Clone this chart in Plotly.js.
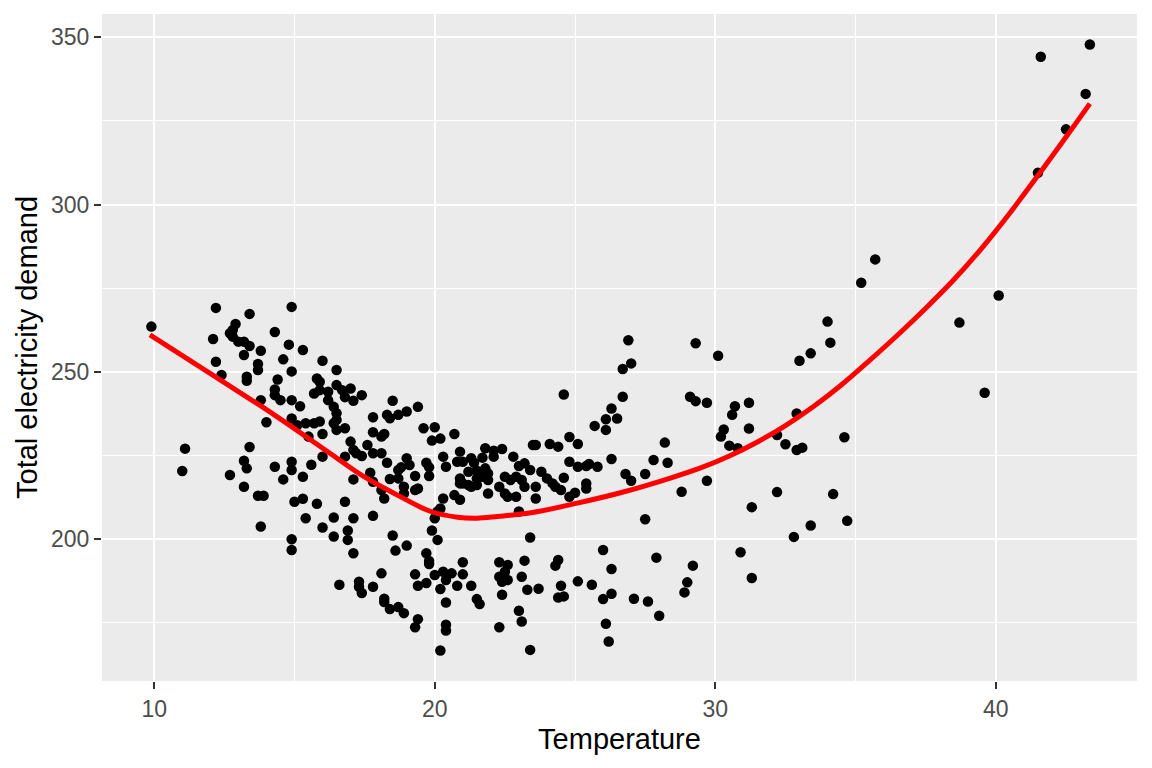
<!DOCTYPE html>
<html>
<head>
<meta charset="utf-8">
<script src="https://cdn.plot.ly/plotly-3.0.1.min.js"></script>
<style>html,body{margin:0;padding:0;background:#fff;}#chart{width:1152px;height:768px;}</style>
</head>
<body>
<div id="chart"></div>
<script>
// Observed points: temperature and total electricity demand
const temperature = [
9.9,12.2,13.4,14.9,12.9,12.8,12.7,12.8,13.0,13.2,13.4,12.1,14.3,14.8,15.3,13.2,13.8,12.2,13.7,13.7,14.6,16.0,14.9,16.5,12.4,13.3,13.3,14.4,14.3,14.3,14.5,14.9,13.8,15.2,15.8,15.9,15.7,15.9,16.2,16.2,16.4,16.5,14.0,14.9,15.1,15.4,15.7,15.9,15.5,16.0,16.5,11.1,11.0,13.4,13.2,13.3,12.7,14.3,14.9,14.9,15.6,16.0,15.3,14.6,
13.2,13.7,13.9,15.0,15.3,15.8,15.4,16.4,16.0,16.4,13.8,14.9,14.9,16.6,
16.5,16.7,17.0,16.8,17.1,17.4,18.5,16.5,16.4,16.8,17.8,18.3,18.4,18.7,19.0,19.4,17.8,18.1,18.2,19.6,20.0,20.7,19.9,20.2,17.0,17.1,17.2,17.6,17.4,17.8,18.1,16.8,18.3,19.0,19.1,18.8,18.7,19.7,19.8,19.8,19.3,20.3,20.4,20.9,20.8,21.0,21.3,21.4,21.7,21.8,22.1,22.4,22.1,22.8,23.2,23.0,21.2,21.5,21.8,21.9,20.9,20.9,21.0,21.2,21.3,21.5,21.5,21.7,21.9,21.9,22.5,22.7,22.9,23.1,23.2,22.3,22.5,22.9,22.6,17.1,18.4,18.7,17.7,17.8,18.9,18.9,19.3,19.4,18.1,18.2,16.8,20.3,20.7,20.9,20.2,20.1,23.0,17.8,17.1,
16.9,16.9,20.0,19.9,20.1,18.5,19.0,18.6,17.1,19.7,19.8,19.8,21.0,22.3,22.6,23.2,18.1,19.3,20.0,20.3,20.4,20.6,21.0,22.3,22.5,22.6,22.4,23.1,17.3,17.3,17.4,17.8,19.4,19.7,20.2,20.8,21.3,22.4,23.3,18.2,18.2,18.4,18.7,18.9,20.4,21.5,21.6,19.4,19.3,20.4,20.4,22.3,23.0,23.1,20.2,23.4,
26.9,29.3,30.1,26.7,27.0,24.6,26.7,29.1,29.3,29.7,26.3,26.1,26.5,26.1,25.7,24.8,25.1,23.5,23.6,24.1,28.2,26.3,27.8,28.3,23.4,23.8,24.0,24.2,24.4,24.6,24.8,25.1,25.4,25.5,25.8,23.6,23.6,24.3,24.5,25.4,25.4,24.8,25.0,26.8,27.0,27.5,29.7,28.8,27.5,
23.4,26.0,27.9,29.2,24.3,24.4,26.3,25.1,25.6,24.5,23.7,24.4,24.6,26.0,26.3,27.1,27.6,29.0,28.9,28.0,26.1,26.2,
34.0,34.1,33.0,33.4,30.7,30.6,31.2,30.3,30.2,31.2,32.9,30.5,30.8,32.2,32.5,32.9,33.1,34.6,32.2,34.2,31.3,34.7,33.4,32.8,30.9,31.3,
43.35,41.6,43.2,42.5,41.5,35.7,35.2,40.1,38.7,39.6
];
const demand = [
263.5,269.1,267.3,269.4,264.3,262.5,261.5,260.5,259.0,259.0,257.7,259.8,261.9,258.1,256.5,255.0,256.3,253.0,252.3,250.5,253.7,253.3,250.1,250.5,249.0,248.5,247.3,247.7,244.7,243.0,241.5,241.5,241.5,239.7,248.0,247.0,243.5,244.5,244.0,241.5,239.5,237.6,234.9,236.0,234.0,234.6,234.6,235.1,230.6,231.4,232.6,227.0,220.3,227.5,223.4,221.1,219.1,221.6,223.1,220.6,222.2,224.6,218.6,217.8,
215.6,212.9,212.9,211.1,212.0,210.5,206.2,206.4,203.4,200.7,203.7,199.9,196.7,186.3,
246.0,244.5,245.0,242.4,241.3,243.0,241.3,235.6,234.6,233.1,236.4,237.1,236.1,237.1,238.1,239.5,231.9,230.6,231.4,233.1,233.4,231.4,229.4,230.0,229.1,226.6,225.6,228.1,224.8,225.6,225.6,224.6,222.8,224.1,222.1,221.4,220.6,222.8,221.4,218.8,218.8,224.6,221.6,226.1,223.1,223.1,224.1,222.8,224.3,227.1,226.4,226.9,224.6,224.6,222.6,221.8,220.1,220.4,221.1,219.6,218.1,216.6,216.6,216.1,215.6,216.1,218.1,218.6,217.6,213.6,218.6,217.6,218.6,217.6,215.6,215.6,213.6,212.6,212.6,217.8,217.9,218.1,219.8,217.1,215.6,213.6,214.6,215.1,214.6,212.1,211.1,212.1,213.1,211.7,209.1,208.2,208.2,206.9,206.2,
202.5,199.7,206.2,202.5,199.7,201.0,198.0,196.5,195.7,195.7,193.4,192.5,193.0,193.0,192.2,193.5,189.7,189.4,189.2,190.2,187.7,189.7,189.4,188.7,190.2,187.7,187.2,188.7,187.2,185.7,183.8,185.7,186.0,186.8,185.0,186.0,186.0,183.3,184.8,182.1,181.1,179.0,179.6,177.8,181.0,182.0,180.5,176.0,173.6,174.3,172.6,173.6,178.5,175.3,166.6,166.8,
259.4,258.5,254.8,250.8,252.5,243.2,242.5,242.5,241.2,240.7,239.0,235.8,236.0,232.6,233.8,230.5,228.4,228.1,228.1,228.4,228.8,223.9,223.6,222.8,220.6,220.1,218.1,216.6,227.6,218.3,223.1,221.6,221.8,222.4,221.6,215.6,212.1,215.6,214.6,216.6,215.1,212.6,213.8,219.4,217.4,219.4,217.4,214.1,205.9,
200.4,196.7,194.4,192.0,192.0,193.7,191.0,187.3,186.3,186.0,185.1,182.5,182.8,182.0,183.6,182.1,181.3,187.0,184.0,177.0,174.6,169.3,
265.0,258.7,253.3,255.5,239.7,237.1,240.7,232.7,230.6,233.0,237.5,227.9,227.1,231.1,228.3,226.6,227.3,230.4,214.0,213.4,209.5,205.4,204.0,200.6,196.0,188.3,
347.9,344.2,333.1,322.5,309.5,283.6,276.6,272.8,264.7,243.7
];
// Smoothed fit
const fitTemperature = [9.85,12.27,14.28,16.30,17.48,18.67,19.86,20.81,21.5,22.23,23.42,25.08,26.62,28.4,29.5,30.5,31.5,32.5,33.5,34.5,35.5,36.5,37.5,38.5,39.5,40.5,41.5,42.5,43.35];
const fitDemand = [261.0,248.0,237.1,225.4,218.6,213.1,208.2,206.5,206.2,206.7,207.8,210.7,213.8,218.2,221.3,224.8,229.0,233.9,239.6,246.1,253.4,261.0,269.0,277.5,287.0,297.5,308.7,320.2,330.2];

const xTickVals = [10,20,30,40];
const yTickVals = [200,250,300,350];

const traces = [
  {x: temperature, y: demand, type: 'scatter', mode: 'markers',
   marker: {color: '#000000', size: 10.5}, hoverinfo: 'x+y'},
  {x: fitTemperature, y: fitDemand, type: 'scatter', mode: 'lines',
   line: {color: '#FF0000', width: 5, shape: 'spline', smoothing: 1}}
];

const axisCommon = {
  showgrid: true, gridcolor: '#FFFFFF', gridwidth: 2,
  zeroline: false, showline: false,
  ticks: 'outside', ticklen: 7, tickwidth: 2, tickcolor: '#333333',
  tickfont: {family: 'Liberation Sans, Arial, sans-serif', size: 23, color: '#4D4D4D'},
  automargin: false
};

const layout = {
  width: 1152, height: 768,
  margin: {l: 102, r: 15, t: 14, b: 87},
  paper_bgcolor: '#FFFFFF', plot_bgcolor: '#EBEBEB',
  showlegend: false,
  font: {family: 'Liberation Sans, Arial, sans-serif'},
  xaxis: Object.assign({}, axisCommon, {
    range: [8.14, 45.03], tickvals: xTickVals, ticktext: xTickVals.map(String),
    minor: {tickvals: [15,25,35,45], showgrid: true, gridcolor: '#FFFFFF', gridwidth: 1, ticks: ''},
    title: {text: 'Temperature', font: {size: 29, color: '#000000'}, standoff: 8}
  }),
  yaxis: Object.assign({}, axisCommon, {
    range: [157.5, 357], tickvals: yTickVals, ticktext: yTickVals.map(String),
    minor: {tickvals: [175,225,275,325], showgrid: true, gridcolor: '#FFFFFF', gridwidth: 1, ticks: ''},
    title: {text: 'Total electricity demand', font: {size: 29, color: '#000000'}, standoff: 4}
  })
};

Plotly.newPlot('chart', traces, layout, {displayModeBar: false, staticPlot: true});
</script>
</body>
</html>
